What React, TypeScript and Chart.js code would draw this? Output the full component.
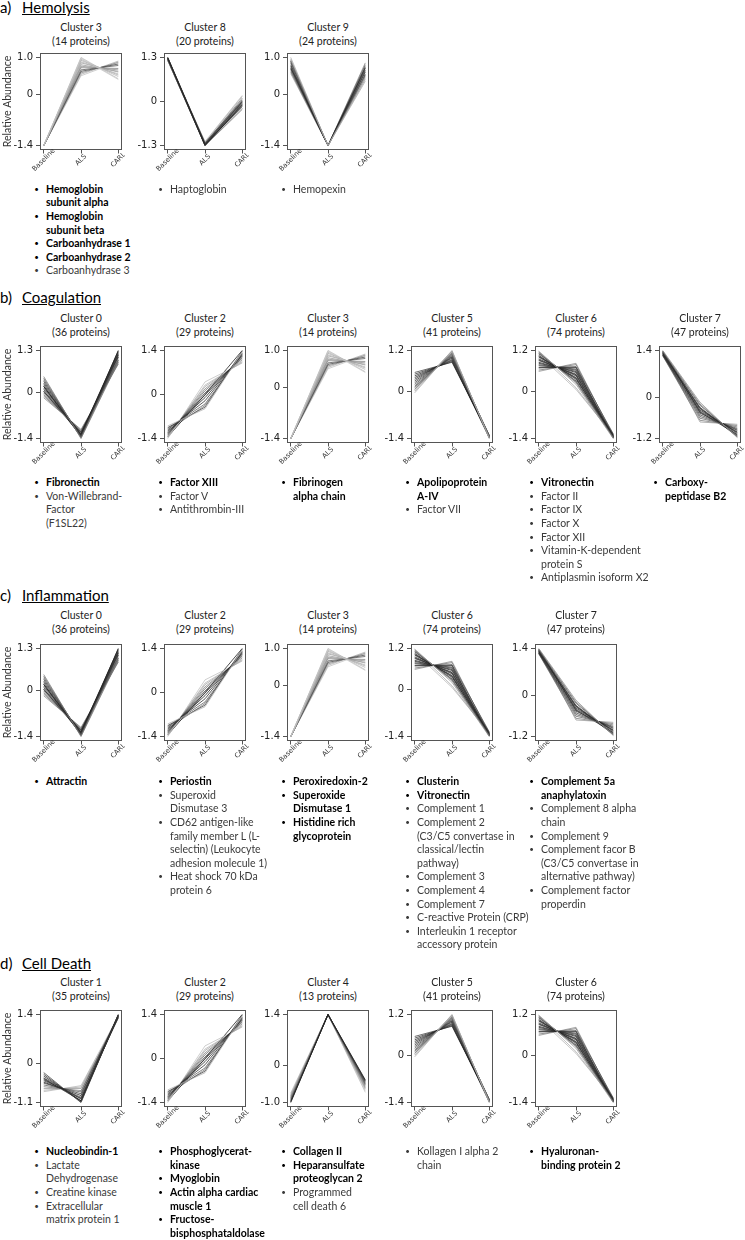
import React, { useEffect, useRef } from "react";
import { Chart, registerables } from "chart.js";

Chart.register(...registerables);

// ---------- DATA ----------
const timepoints = ["Baseline", "ALS", "CARL"];

const proteinCounts: Record<number, number> = { 0: 36, 1: 35, 2: 29, 3: 14, 4: 13, 5: 41, 6: 74, 7: 47, 8: 20, 9: 24 };

// each line: [Baseline, ALS, CARL]
const cluster0Lines = [
  [0.5, -1.4, 0.95], [0.45, -1.38, 1.0], [0.4, -1.35, 1.05], [0.35, -1.33, 1.1], [0.3, -1.3, 1.15],
  [0.25, -1.3, 1.2], [0.2, -1.28, 1.25], [0.15, -1.26, 1.28], [0.1, -1.25, 1.2], [0.05, -1.22, 1.1],
  [0.0, -1.2, 1.0], [-0.05, -1.18, 0.95], [-0.1, -1.15, 0.9], [-0.15, -1.12, 0.88], [0.2, -1.35, 1.3], [0.05, -1.3, 1.15],
];
const cluster0Shades = [120, 100, 80, 60, 50, 40, 30, 40, 60, 50, 70, 90, 110, 130, 20, 30];
const cluster0Ticks = [-1.4, 0, 1.3];
const cluster0TickLabels = ["-1.4", "0", "1.3"];

const cluster1Lines = [
  [-0.25, -1.1, 1.38], [-0.3, -1.08, 1.4], [-0.35, -1.05, 1.36], [-0.4, -1.0, 1.33], [-0.45, -0.98, 1.38],
  [-0.48, -0.95, 1.3], [-0.52, -0.9, 1.35], [-0.55, -0.85, 1.32], [-0.6, -0.8, 1.37], [-0.65, -0.76, 1.34],
  [-0.7, -0.7, 1.29], [-0.75, -0.66, 1.31], [-0.79, -0.62, 1.35], [-0.42, -1.05, 1.39],
];
const cluster1Shades = [60, 40, 30, 50, 40, 70, 30, 60, 90, 120, 150, 170, 180, 20];
const cluster1Ticks = [-1.1, 0, 1.4];
const cluster1TickLabels = ["-1.1", "0", "1.4"];

const cluster2Lines = [
  [-1.0, -0.45, 1.35], [-1.05, -0.4, 1.38], [-1.08, -0.3, 1.3], [-1.12, -0.2, 1.28], [-1.18, -0.1, 1.25],
  [-1.22, -0.02, 1.22], [-1.25, 0.05, 1.18], [-1.28, 0.12, 1.15], [-1.3, 0.18, 1.1], [-1.33, 0.25, 1.05],
  [-1.36, 0.3, 1.02], [-1.4, 0.4, 1.0], [-1.35, 0.0, 1.4], [-1.15, -0.35, 1.32],
];
const cluster2Shades = [170, 60, 90, 40, 30, 50, 70, 100, 130, 160, 180, 190, 20, 120];
const cluster2Ticks = [-1.4, 0, 1.4];
const cluster2TickLabels = ["-1.4", "0", "1.4"];

const cluster3Lines = [
  [-1.4, 1.0, 0.42], [-1.4, 0.98, 0.4], [-1.39, 0.95, 0.48], [-1.4, 0.92, 0.52], [-1.4, 0.88, 0.55],
  [-1.41, 0.85, 0.6], [-1.4, 0.8, 0.62], [-1.4, 0.76, 0.66], [-1.4, 0.72, 0.7], [-1.4, 0.66, 0.78],
  [-1.4, 0.62, 0.82], [-1.4, 0.58, 0.86], [-1.4, 0.54, 0.9], [-1.4, 0.5, 0.88],
];
const cluster3Shades = [190, 200, 180, 170, 175, 160, 150, 140, 120, 80, 60, 130, 170, 190];
const cluster3Ticks = [-1.4, 0, 1.0];
const cluster3TickLabels = ["-1.4", "0", "1.0"];

const cluster4Lines = [
  [-1.0, 1.4, -0.38], [-0.98, 1.4, -0.4], [-0.97, 1.39, -0.42], [-0.95, 1.4, -0.45], [-0.93, 1.4, -0.48],
  [-0.9, 1.38, -0.5], [-0.88, 1.4, -0.52], [-0.86, 1.39, -0.55], [-0.84, 1.4, -0.58], [-0.82, 1.4, -0.6],
  [-0.8, 1.4, -0.63], [-0.77, 1.38, -0.67], [-0.74, 1.4, -0.72],
];
const cluster4Shades = [30, 50, 40, 70, 90, 110, 120, 140, 150, 160, 170, 180, 190];
const cluster4Ticks = [-1.0, 0, 1.4];
const cluster4TickLabels = ["-1.0", "0", "1.4"];

const cluster5Lines = [
  [-0.05, 1.2, -1.4], [0.0, 1.17, -1.38], [0.05, 1.14, -1.36], [0.1, 1.12, -1.35], [0.15, 1.08, -1.33],
  [0.2, 1.05, -1.35], [0.25, 1.02, -1.32], [0.3, 1.0, -1.3], [0.35, 0.97, -1.34], [0.4, 0.93, -1.36],
  [0.45, 0.9, -1.38], [0.5, 0.87, -1.33], [0.55, 0.85, -1.31], [0.05, 1.18, -1.4], [0.12, 1.1, -1.37],
];
const cluster5Shades = [170, 150, 130, 110, 90, 70, 60, 50, 40, 30, 40, 50, 60, 160, 120];
const cluster5Ticks = [-1.4, 0, 1.2];
const cluster5TickLabels = ["-1.4", "0", "1.2"];

const cluster6Lines = [
  [1.18, 0.2, -1.4], [1.15, 0.25, -1.38], [1.12, 0.28, -1.36], [1.1, 0.3, -1.35], [1.05, 0.35, -1.32],
  [1.02, 0.38, -1.38], [1.0, 0.4, -1.3], [0.95, 0.45, -1.34], [0.92, 0.48, -1.36], [0.9, 0.5, -1.28],
  [0.85, 0.55, -1.33], [0.82, 0.58, -1.37], [0.78, 0.62, -1.31], [0.75, 0.65, -1.35], [0.7, 0.7, -1.39],
  [0.68, 0.72, -1.26], [0.62, 0.78, -1.3], [0.58, 0.82, -1.34], [1.16, 0.1, -1.33], [1.08, 0.05, -1.29],
];
const cluster6Shades = [150, 120, 90, 60, 40, 30, 50, 40, 30, 70, 40, 30, 60, 40, 30, 80, 110, 140, 170, 180];
const cluster6Ticks = [-1.4, 0, 1.2];
const cluster6TickLabels = ["-1.4", "0", "1.2"];

const cluster7Lines = [
  [1.4, -0.13, -1.17], [1.38, -0.18, -1.15], [1.36, -0.22, -1.12], [1.35, -0.28, -1.1], [1.33, -0.32, -1.05],
  [1.31, -0.36, -1.02], [1.3, -0.4, -1.0], [1.28, -0.45, -0.96], [1.27, -0.5, -0.93], [1.26, -0.55, -0.9],
  [1.25, -0.6, -0.86], [1.24, -0.66, -0.82], [1.32, -0.71, -0.78], [1.38, -0.42, -1.08], [1.34, -0.3, -1.14],
];
const cluster7Shades = [140, 110, 80, 60, 40, 30, 50, 40, 60, 80, 100, 120, 150, 30, 50];
const cluster7Ticks = [-1.2, 0, 1.4];
const cluster7TickLabels = ["-1.2", "0", "1.4"];

const cluster8Lines = [
  [1.3, -1.28, -0.05], [1.28, -1.3, -0.1], [1.27, -1.25, 0.0], [1.25, -1.27, -0.15], [1.3, -1.22, 0.05],
  [1.22, -1.3, -0.2], [1.26, -1.24, 0.1], [1.24, -1.29, -0.08], [1.29, -1.26, -0.02], [1.2, -1.2, 0.15],
  [1.23, -1.18, 0.18], [1.28, -1.3, -0.24], [1.25, -1.23, 0.02], [1.21, -1.28, -0.12],
];
const cluster8Shades = [40, 30, 50, 60, 80, 100, 120, 40, 20, 170, 190, 160, 70, 90];
const cluster8Ticks = [-1.3, 0, 1.3];
const cluster8TickLabels = ["-1.3", "0", "1.3"];

const cluster9Lines = [
  [1.0, -1.4, 0.35], [0.95, -1.4, 0.4], [0.92, -1.4, 0.45], [0.88, -1.4, 0.5], [0.85, -1.4, 0.55],
  [0.8, -1.4, 0.6], [0.76, -1.4, 0.65], [0.72, -1.4, 0.7], [0.68, -1.4, 0.75], [0.64, -1.4, 0.8],
  [0.6, -1.4, 0.85], [0.56, -1.4, 0.62], [0.9, -1.4, 0.72], [0.7, -1.4, 0.52],
];
const cluster9Shades = [170, 150, 120, 90, 60, 40, 30, 40, 60, 90, 130, 160, 50, 110];
const cluster9Ticks = [-1.4, 0, 1.0];
const cluster9TickLabels = ["-1.4", "0", "1.0"];

const clusterTable: Record<number, { lines: number[][]; shades: number[]; ticks: number[]; tickLabels: string[] }> = {
  0: { lines: cluster0Lines, shades: cluster0Shades, ticks: cluster0Ticks, tickLabels: cluster0TickLabels },
  1: { lines: cluster1Lines, shades: cluster1Shades, ticks: cluster1Ticks, tickLabels: cluster1TickLabels },
  2: { lines: cluster2Lines, shades: cluster2Shades, ticks: cluster2Ticks, tickLabels: cluster2TickLabels },
  3: { lines: cluster3Lines, shades: cluster3Shades, ticks: cluster3Ticks, tickLabels: cluster3TickLabels },
  4: { lines: cluster4Lines, shades: cluster4Shades, ticks: cluster4Ticks, tickLabels: cluster4TickLabels },
  5: { lines: cluster5Lines, shades: cluster5Shades, ticks: cluster5Ticks, tickLabels: cluster5TickLabels },
  6: { lines: cluster6Lines, shades: cluster6Shades, ticks: cluster6Ticks, tickLabels: cluster6TickLabels },
  7: { lines: cluster7Lines, shades: cluster7Shades, ticks: cluster7Ticks, tickLabels: cluster7TickLabels },
  8: { lines: cluster8Lines, shades: cluster8Shades, ticks: cluster8Ticks, tickLabels: cluster8TickLabels },
  9: { lines: cluster9Lines, shades: cluster9Shades, ticks: cluster9Ticks, tickLabels: cluster9TickLabels },
};

// protein lists: first element true = bold
type Item = [boolean, ...string[]];
const hemolysisClusters = [3, 8, 9];
const hemolysisLists: Item[][] = [
  [[true, "Hemoglobin", "subunit alpha"], [true, "Hemoglobin", "subunit beta"], [true, "Carboanhydrase 1"], [true, "Carboanhydrase 2"], [false, "Carboanhydrase 3"]],
  [[false, "Haptoglobin"]],
  [[false, "Hemopexin"]],
];
const coagulationClusters = [0, 2, 3, 5, 6, 7];
const coagulationLists: Item[][] = [
  [[true, "Fibronectin"], [false, "Von-Willebrand-", "Factor", "(F1SL22)"]],
  [[true, "Factor XIII"], [false, "Factor V"], [false, "Antithrombin-III"]],
  [[true, "Fibrinogen", "alpha chain"]],
  [[true, "Apolipoprotein", "A-IV"], [false, "Factor VII"]],
  [[true, "Vitronectin"], [false, "Factor II"], [false, "Factor IX"], [false, "Factor X"], [false, "Factor XII"], [false, "Vitamin-K-dependent", "protein S"], [false, "Antiplasmin isoform X2"]],
  [[true, "Carboxy-", "peptidase B2"]],
];
const inflammationClusters = [0, 2, 3, 6, 7];
const inflammationLists: Item[][] = [
  [[true, "Attractin"]],
  [[true, "Periostin"], [false, "Superoxid", "Dismutase 3"], [false, "CD62 antigen-like", "family member L (L-", "selectin) (Leukocyte", "adhesion molecule 1)"], [false, "Heat shock 70 kDa", "protein 6"]],
  [[true, "Peroxiredoxin-2"], [true, "Superoxide", "Dismutase 1"], [true, "Histidine rich", "glycoprotein"]],
  [[true, "Clusterin"], [true, "Vitronectin"], [false, "Complement 1"], [false, "Complement 2", "(C3/C5 convertase in", "classical/lectin", "pathway)"], [false, "Complement 3"], [false, "Complement 4"], [false, "Complement 7"], [false, "C-reactive Protein (CRP)"], [false, "Interleukin 1 receptor", "accessory protein"]],
  [[true, "Complement 5a", "anaphylatoxin"], [false, "Complement 8 alpha", "chain"], [false, "Complement 9"], [false, "Complement facor B", "(C3/C5 convertase in", "alternative pathway)"], [false, "Complement factor", "properdin"]],
];
const cellDeathClusters = [1, 2, 4, 5, 6];
const cellDeathLists: Item[][] = [
  [[true, "Nucleobindin-1"], [false, "Lactate", "Dehydrogenase"], [false, "Creatine kinase"], [false, "Extracellular", "matrix protein 1"]],
  [[true, "Phosphoglycerat-", "kinase"], [true, "Myoglobin"], [true, "Actin alpha cardiac", "muscle 1"], [true, "Fructose-", "bisphosphataldolase"]],
  [[true, "Collagen II"], [true, "Heparansulfate", "proteoglycan 2"], [false, "Programmed", "cell death 6"]],
  [[false, "Kollagen I alpha 2", "chain"]],
  [[true, "Hyaluronan-", "binding protein 2"]],
];

// ---------- LAYOUT ----------
const BOX_W = 82;
const BOX_H = 98;
const AXIS_W = 40;
const AXIS_H = 32;
const PAD_T = 8;
const PAD_R = 3;
const colLeft = [40, 164, 287, 411, 535, 659];
const TEXT_FONT = "Lato, 'Open Sans', sans-serif";
const LINE_H = 13.6;

const sections = [
  { letter: "a)", name: "Hemolysis", headY: 6.7, titleY: 27, boxTop: 52, listY: 189.5, clusters: hemolysisClusters, lists: hemolysisLists },
  { letter: "b)", name: "Coagulation", headY: 297, titleY: 318, boxTop: 345, listY: 483, clusters: coagulationClusters, lists: coagulationLists },
  { letter: "c)", name: "Inflammation", headY: 595.3, titleY: 615, boxTop: 643, listY: 782, clusters: inflammationClusters, lists: inflammationLists },
  { letter: "d)", name: "Cell Death", headY: 962.5, titleY: 982, boxTop: 1009, listY: 1152, clusters: cellDeathClusters, lists: cellDeathLists },
];

const boxPlugin = {
  id: "boxFrame",
  afterDraw(chart: any) {
    const { ctx, chartArea: a } = chart;
    ctx.save();
    ctx.strokeStyle = "#555";
    ctx.lineWidth = 1;
    const l = Math.round(a.left) + 0.5, t = Math.round(a.top) + 0.5;
    const r = Math.round(a.right) - 0.5, b = Math.round(a.bottom) - 0.5;
    ctx.strokeRect(l, t, r - l, b - t);
    ctx.restore();
  },
};

// rotated x labels centred under their tick (like matplotlib rotation=45, ha='center')
const xLabelPlugin = {
  id: "xLabels",
  afterDraw(chart: any) {
    const { ctx, chartArea } = chart;
    const xs = chart.scales.x;
    ctx.save();
    ctx.font = "6.8px 'DejaVu Sans'";
    ctx.fillStyle = "#333";
    ctx.textAlign = "center";
    ctx.textBaseline = "middle";
    timepoints.forEach((lab, i) => {
      const px = xs.getPixelForValue(i);
      ctx.save();
      ctx.translate(px, chartArea.bottom + 10);
      ctx.rotate(-Math.PI / 4);
      ctx.fillText(lab, 0, 0);
      ctx.restore();
    });
    ctx.restore();
  },
};

function ClusterChart({ cid, boxLeft, boxTop, showYTitle }: { cid: number; boxLeft: number; boxTop: number; showYTitle: boolean }) {
  const ref = useRef<HTMLCanvasElement>(null);
  const W = AXIS_W + BOX_W + PAD_R;
  const H = PAD_T + BOX_H + AXIS_H;
  useEffect(() => {
    const c = clusterTable[cid];
    const lo = c.ticks[0];
    const hi = c.ticks[c.ticks.length - 1];
    const m = (hi - lo) * 0.05;
    const datasets = c.lines.map((ln, i) => {
      const s = c.shades[i];
      return {
        data: ln.map((v, j) => ({ x: j, y: v })),
        borderColor: `rgba(${s},${s},${s},0.75)`,
        borderWidth: 1,
        pointRadius: 0,
        fill: false,
        tension: 0,
      };
    });
    const chart = new Chart(ref.current as HTMLCanvasElement, {
      type: "line",
      data: { datasets },
      options: {
        animation: false,
        responsive: false,
        events: [],
        layout: { padding: { top: PAD_T, right: PAD_R, left: 0, bottom: 0 } },
        plugins: { legend: { display: false }, tooltip: { enabled: false } },
        scales: {
          x: {
            type: "linear",
            min: -0.1,
            max: 2.1,
            afterBuildTicks: (s: any) => {
              s.ticks = timepoints.map((_, i) => ({ value: i }));
            },
            afterFit: (s: any) => {
              s.height = AXIS_H;
            },
            ticks: { display: false },
            grid: { display: true, drawOnChartArea: false, drawTicks: true, tickLength: 3.5, color: "#555" },
            border: { display: false },
          },
          y: {
            type: "linear",
            min: lo - m,
            max: hi + m,
            afterBuildTicks: (s: any) => {
              s.ticks = c.ticks.map((v) => ({ value: v }));
            },
            afterFit: (s: any) => {
              s.width = AXIS_W;
            },
            ticks: {
              callback: (v: any) => c.tickLabels[c.ticks.indexOf(Number(v))],
              padding: 3,
              color: "#222",
              font: { family: "'DejaVu Sans'", size: 10 },
            },
            grid: { display: true, drawOnChartArea: false, drawTicks: true, tickLength: 4, color: "#555" },
            border: { display: false },
            title: {
              display: showYTitle,
              text: "Relative Abundance",
              color: "#333",
              font: { family: TEXT_FONT, size: 10.5 },
              padding: { top: 1.5, bottom: 0 },
            },
          },
        },
      } as any,
      plugins: [boxPlugin, xLabelPlugin],
    });
    return () => chart.destroy();
  }, [cid, showYTitle]);
  return (
    <canvas
      ref={ref}
      width={W}
      height={H}
      style={{ position: "absolute", left: boxLeft - AXIS_W, top: boxTop - PAD_T, width: W, height: H }}
    />
  );
}

function BulletList({ items, left, top }: { items: Item[]; left: number; top: number }) {
  const out: React.ReactNode[] = [];
  let li = 0;
  items.forEach((it, k) => {
    const [bold, ...lines] = it;
    lines.forEach((txt, j) => {
      const y = top + li * LINE_H - LINE_H / 2;
      if (j === 0) {
        out.push(
          <div
            key={`b${k}`}
            style={{ position: "absolute", left: left - 8.5, width: 10, textAlign: "center", top: y, lineHeight: `${LINE_H}px`, fontSize: 8, color: bold ? "#000" : "#3a3a3a" }}
          >
            •
          </div>
        );
      }
      out.push(
        <div
          key={`t${k}_${j}`}
          style={{
            position: "absolute",
            left: left + 6,
            top: y,
            lineHeight: `${LINE_H}px`,
            fontSize: 10.5,
            whiteSpace: "nowrap",
            fontWeight: bold ? 700 : 400,
            color: bold ? "#000" : "#3a3a3a",
          }}
        >
          {txt}
        </div>
      );
      li++;
    });
  });
  return <>{out}</>;
}

export default function App() {
  return (
    <div style={{ position: "absolute", left: 0, top: 0, width: 745, height: 1240, background: "#fff", fontFamily: TEXT_FONT, color: "#000", overflow: "hidden" }}>
      {sections.map((sec, si) => (
        <React.Fragment key={si}>
          <div style={{ position: "absolute", left: 0, top: sec.headY - 10, lineHeight: "20px", fontSize: 15 }}>{sec.letter}</div>
          <div style={{ position: "absolute", left: 22, top: sec.headY - 10, lineHeight: "20px", fontSize: 15, textDecoration: "underline" }}>{sec.name}</div>
          {sec.clusters.map((cid, ci) => {
            const bl = colLeft[ci];
            return (
              <React.Fragment key={ci}>
                <div style={{ position: "absolute", left: bl + BOX_W / 2 - 60, width: 120, top: sec.titleY - 7, lineHeight: "14px", fontSize: 10.5, textAlign: "center", color: "#222" }}>
                  Cluster {cid}
                  <br />({proteinCounts[cid]} proteins)
                </div>
                <ClusterChart cid={cid} boxLeft={bl} boxTop={sec.boxTop} showYTitle={ci === 0} />
                <BulletList items={sec.lists[ci]} left={bl} top={sec.listY} />
              </React.Fragment>
            );
          })}
        </React.Fragment>
      ))}
    </div>
  );
}
